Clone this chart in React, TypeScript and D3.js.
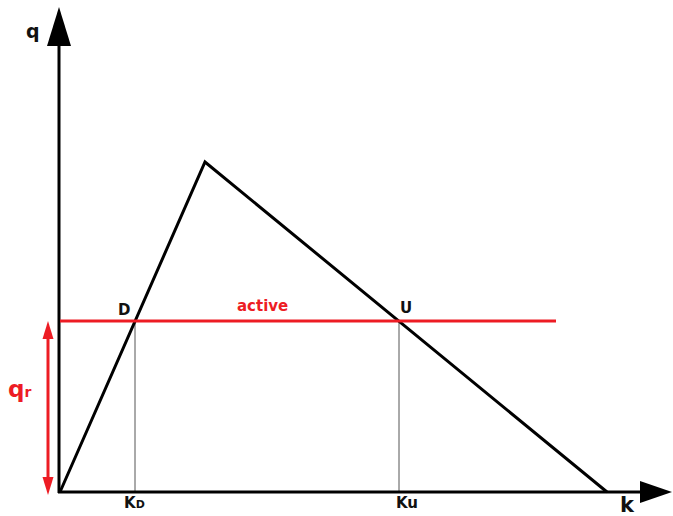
import React from "react";
import * as d3 from "d3";

// Fundamental diagram: (k, q) vertices of the triangle
const triangleK = [0, 145, 547];
const triangleQ = [0, 330, 0];
// critical flow line
const qr = 171;
const lineEndK = 496;
const kD = 75;
const kU = 339;
const pointLabels = ["D", "U"];
const axisLabels = ["q", "k"];
const activeLabel = "active";

const W = 673;
const H = 516;
const RED = "#ed1c24";
const FONT = "DejaVu Sans, sans-serif";

export default function App() {
  const x = d3.scaleLinear().domain([0, 600]).range([60, 660]);
  const y = d3.scaleLinear().domain([0, 480]).range([492, 12]);

  const triPts: [number, number][] = triangleK.map((k, i) => [x(k), y(triangleQ[i])]);
  const line = d3.line();

  const x0 = x(0);
  const y0 = y(0);
  const yTop = 7;
  const xRight = 672;

  return (
    <svg
      width={W}
      height={H}
      style={{ position: "absolute", left: 0, top: 0, background: "#fff" }}
      fontFamily={FONT}
    >
      <rect width={W} height={H} fill="#fff" />
      {/* thin verticals */}
      <line x1={x(kD)} x2={x(kD)} y1={y(qr)} y2={y0} stroke="#555" strokeWidth={1} />
      <line x1={x(kU)} x2={x(kU)} y1={y(qr)} y2={y0} stroke="#555" strokeWidth={1} />
      {/* axes */}
      <line x1={x0 - 1} x2={x0 - 1} y1={y0 + 1} y2={40} stroke="#000" strokeWidth={3} />
      <polygon points={`${x0 - 1},${yTop} ${x0 - 13},46 ${x0 + 11},46`} fill="#000" />
      <line x1={x0 - 2} x2={645} y1={y0} y2={y0} stroke="#000" strokeWidth={3} />
      <polygon points={`${xRight},${y0} 640,481 640,503`} fill="#000" />
      {/* triangle */}
      <path d={line(triPts) || ""} fill="none" stroke="#000" strokeWidth={3} strokeLinejoin="miter" />
      {/* red qr line */}
      <line x1={x0} x2={x(lineEndK)} y1={y(qr)} y2={y(qr)} stroke={RED} strokeWidth={3} />
      {/* red double arrow */}
      <line x1={48} x2={48} y1={y(qr) + 10} y2={y0 - 8} stroke={RED} strokeWidth={3} />
      <polygon points={`48,${y(qr)} 42.5,${y(qr) + 18} 53.5,${y(qr) + 18}`} fill={RED} />
      <polygon points={`48,${y0 + 3} 42.5,${y0 - 15} 53.5,${y0 - 15}`} fill={RED} />
      {/* labels */}
      <text x={26} y={38} fontSize={19} fontWeight="bold" fill="#111">{axisLabels[0]}</text>
      <text x={620} y={512} fontSize={21} fontWeight="bold" fill="#111">{axisLabels[1]}</text>
      <text x={118} y={315} fontSize={15} fontWeight="bold" fill="#111">{pointLabels[0]}</text>
      <text x={400} y={313} fontSize={15} fontWeight="bold" fill="#111">{pointLabels[1]}</text>
      <text x={237} y={311} fontSize={15} fontWeight="bold" fill={RED}>{activeLabel}</text>
      <text x={8} y={397} fontSize={23} fontWeight="bold" fill={RED}>
        q<tspan fontSize={14}>r</tspan>
      </text>
      <text x={124} y={508} fontSize={15} fontWeight="bold" fill="#111">
        K<tspan fontSize={11}>D</tspan>
      </text>
      <text x={396} y={508} fontSize={15} fontWeight="bold" fill="#111">
        Ku
      </text>
    </svg>
  );
}
